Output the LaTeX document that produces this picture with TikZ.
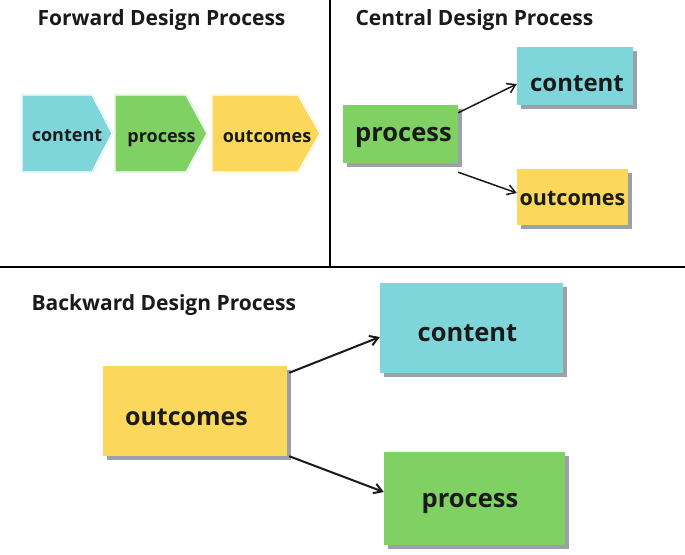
\documentclass[tikz,border=0pt]{standalone}
\usepackage{fontspec}
\setmainfont{Open Sans}
\usetikzlibrary{shadows,arrows.meta}
\definecolor{cyanbox}{HTML}{7ED6DB}
\definecolor{greenbox}{HTML}{7FD163}
\definecolor{yellowbox}{HTML}{FBD85C}
\definecolor{shadowgray}{HTML}{9BA1AA}
\definecolor{ink}{HTML}{1A1A1A}
\tikzset{
  title/.style={anchor=west,font=\bfseries\fontsize{21}{24}\selectfont,text=ink},
  sbox/.style={rectangle,inner sep=0pt,
    copy shadow={shadow xshift=4pt,shadow yshift=-4pt,fill=shadowgray,draw=none}},
  boxtext/.style={anchor=base,inner sep=0pt,text=ink,font=\bfseries\fontsize{#1}{#1}\selectfont},
  chevline/.style={line width=2.4pt,draw=#1!40},
  chevinner/.style={line width=1.2pt,draw=white,fill=#1},
  conn/.style={-{Straight Barb[length=8pt,width=10pt]},line width=2pt,ink},
  divider/.style={line width=1.8pt,black}
}
\begin{document}
\begin{tikzpicture}[x=1pt,y=-1pt]
\useasboundingbox[fill=white] (0,0) rectangle (685,554);
% dividers
\coordinate (vtop) at (330,0);
\coordinate (vbot) at (330,267);
\coordinate (hl) at (0,267);
\coordinate (hr) at (685,267);
\draw[divider] (vtop) -- (vbot);
\draw[divider] (hl) -- (hr);
% titles
\node[title] (t1) at (34,20) {Forward Design Process};
\node[title] (t2) at (352,20) {Central Design Process};
\node[title] (t3) at (28,305) {Backward Design Process};
% forward chevrons
\draw[chevline=cyanbox] (22,95) -- (92,95) -- (112,133.5) -- (92,172) -- (22,172) -- cycle;
\draw[chevinner=cyanbox] (22,95) -- (92,95) -- (112,133.5) -- (92,172) -- (22,172) -- cycle;
\node[boxtext=18] (fct) at (67,141.5) {content};
\draw[chevline=greenbox] (115,95) -- (186,95) -- (207,133.5) -- (186,172) -- (115,172) -- cycle;
\draw[chevinner=greenbox] (115,95) -- (186,95) -- (207,133.5) -- (186,172) -- (115,172) -- cycle;
\node[boxtext=18] (fpt) at (161.5,142) {process};
\draw[chevline=yellowbox] (212,95) -- (298,95) -- (320,133.5) -- (298,172) -- (212,172) -- cycle;
\draw[chevinner=yellowbox] (212,95) -- (298,95) -- (320,133.5) -- (298,172) -- (212,172) -- cycle;
\node[boxtext=18] (fot) at (267,142) {outcomes};
% central
\node[sbox,fill=greenbox,minimum width=115pt,minimum height=58pt] (cp) at (400.5,134) {};
\node[boxtext=25.5] (cpt) at (403.5,141.7) {process};
\node[sbox,fill=cyanbox,minimum width=116pt,minimum height=58pt] (cc) at (575,76) {};
\node[boxtext=24] (cct) at (577,91) {content};
\node[sbox,fill=yellowbox,minimum width=111pt,minimum height=56pt] (co) at (572.5,197) {};
\node[boxtext=21.5] (cot) at (572.5,205.5) {outcomes};
\draw[conn,line width=1.5pt] (cp.north east) ++(0,8) -- (cc.west |- 0,84);
\draw[conn,line width=1.5pt] (cp.south east) ++(0,9) -- (co.west |- 0,193);
% backward
\node[sbox,fill=yellowbox,minimum width=184pt,minimum height=90pt] (bo) at (195,411) {};
\node[boxtext=25] (bot) at (186.5,425) {outcomes};
\node[sbox,fill=cyanbox,minimum width=183pt,minimum height=90pt] (bc) at (471.5,328) {};
\node[boxtext=25.5] (bct) at (467.5,341) {content};
\node[sbox,fill=greenbox,minimum width=181pt,minimum height=93pt] (bp) at (474.5,498.5) {};
\node[boxtext=25.5] (bpt) at (470,507.5) {process};
\draw[conn] (bo.north east) ++(2,7) -- (bc.west |- 0,337);
\draw[conn] (bo.south east) ++(2,0) -- (bp.west |- 0,492);
\end{tikzpicture}
\end{document}
